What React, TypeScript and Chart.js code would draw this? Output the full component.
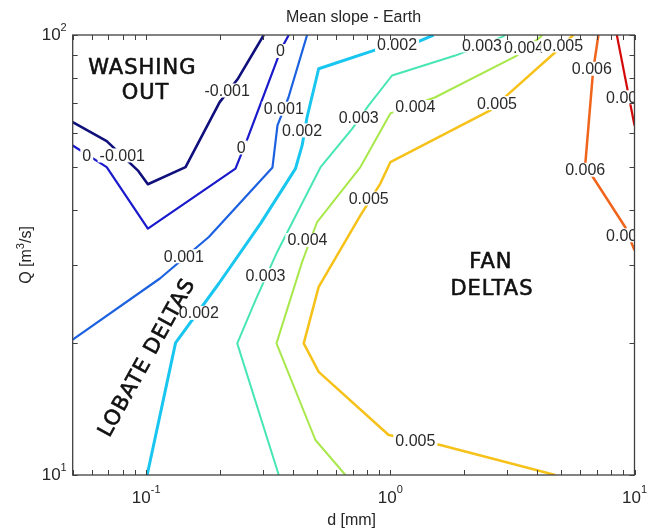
import React, { useEffect, useRef } from "react";
import { Chart, registerables } from "chart.js";

Chart.register(...registerables);

// ---- axis ticks ----
const X_TICKS = [0.05, 0.06, 0.07, 0.08, 0.09, 0.1, 0.2, 0.3, 0.4, 0.5, 0.6, 0.7, 0.8, 0.9, 1, 2, 3, 4, 5, 6, 7, 8, 9, 10];
const Y_TICKS = [10, 20, 30, 40, 50, 60, 70, 80, 90, 100];
const X_LABEL_VALUES = [0.1, 1, 10];
const X_LABEL_EXP = ["-1", "0", "1"];
const Y_LABEL_VALUES = [10, 100];
const Y_LABEL_EXP = ["1", "2"];

// ---- contour lines: d [mm] and Q [m3/s] ----
const D_M001 = [0.05, 0.0689, 0.0928, 0.1016, 0.1449, 0.1997, 0.2366, 0.303];
const Q_M001 = [63.4, 57.4, 49.1, 45.8, 50.1, 70.3, 79.3, 100];

const D_000 = [0.05, 0.0689, 0.1016, 0.2321, 0.2601, 0.358, 0.3836];
const Q_000 = [56.1, 50.1, 36.3, 49.7, 58.2, 93.2, 100];

const D_001 = [0.05, 0.1138, 0.1805, 0.329, 0.3449, 0.3825, 0.4561];
const Q_001 = [20.3, 27.96, 34.75, 50.0, 62.3, 72.1, 100];

const D_002 = [0.1009, 0.1319, 0.1984, 0.2938, 0.4087, 0.4352, 0.4561, 0.5087, 0.8955, 1.286, 1.504];
const Q_002 = [10, 19.97, 27.24, 37.27, 49.7, 56.1, 65.1, 83.8, 93.0, 96.3, 100];

const D_003 = [0.3491, 0.236, 0.2804, 0.3439, 0.517, 0.697, 0.815, 1.016, 1.845, 2.872, 2.954];
const Q_003 = [10, 19.91, 24.96, 32.13, 50.0, 61.2, 69.2, 80.9, 89.8, 99.0, 100];

const D_004 = [0.6545, 0.4933, 0.3417, 0.4352, 0.5012, 0.7541, 1.0, 1.528, 3.3, 4.11, 4.188];
const Q_004 = [10, 12.01, 19.91, 30.5, 37.58, 50.1, 66.35, 72.2, 89.8, 98.9, 100];

const D_005 = [4.732, 1.602, 0.9841, 0.5087, 0.4418, 0.5087, 0.7541, 0.9101, 1.0, 2.566, 3.002, 4.824, 5.609];
const Q_005 = [10, 11.7, 12.33, 17.16, 19.91, 26.76, 38.92, 45.95, 51.4, 67.4, 72.9, 92.2, 100];

const D_006 = [7.117, 6.77, 6.28, 6.752, 9.154, 10];
const Q_006 = [100, 83.06, 50.54, 47.56, 36.62, 32.42];

const D_007 = [8.465, 10];
const Q_007 = [100, 62.3];

// ---- inline contour labels ----
const LABEL_TEXT = ["-0.001", "0", "-0.001", "0", "0", "0.001", "0.002", "0.001", "0.002", "0.002", "0.003", "0.003", "0.003", "0.004", "0.004", "0.004", "0.005", "0.005", "0.005", "0.005", "0.006", "0.006", "0.006", "0.007"];
const LABEL_D = [0.0798, 0.0571, 0.2147, 0.2449, 0.3548, 0.366, 0.4352, 0.1426, 0.1643, 1.065, 0.7419, 0.308, 2.372, 0.4575, 1.266, 3.53, 0.815, 2.733, 5.1, 1.266, 6.688, 6.28, 9.24, 9.24];
const LABEL_Q = [53.25, 53.25, 74.8, 55.5, 91.97, 68.0, 60.7, 31.42, 23.36, 95.1, 64.9, 28.44, 94.7, 34.2, 68.6, 93.4, 42.5, 70.0, 94.7, 11.96, 83.8, 49.4, 35.06, 72.2];

// ---- region annotations ----
const REGION_TEXT = ["WASHING", "OUT", "FAN", "DELTAS", "LOBATE DELTAS"];
const REGION_D = [0.0964, 0.0994, 2.582, 2.607, 0.1013];
const REGION_Q = [83.8, 73.5, 30.34, 26.41, 18.44];
const REGION_ANGLE = [0, 0, 0, 0, -61];

const LINES = [
  { d: D_M001, q: Q_M001, color: "#10107c", width: 2.6 },
  { d: D_000, q: Q_000, color: "#1a1acc", width: 2.2 },
  { d: D_001, q: Q_001, color: "#1c62e0", width: 2.2 },
  { d: D_002, q: Q_002, color: "#18c6f0", width: 3 },
  { d: D_003, q: Q_003, color: "#48e6b4", width: 2 },
  { d: D_004, q: Q_004, color: "#a8e84a", width: 2 },
  { d: D_005, q: Q_005, color: "#f6c21a", width: 2.5 },
  { d: D_006, q: Q_006, color: "#f0641c", width: 2.5 },
  { d: D_007, q: Q_007, color: "#d40a0a", width: 2.2 },
];

const FONT = '"Liberation Sans", Arial, sans-serif';

const framePlugin = {
  id: "matlabFrame",
  afterDatasetsDraw(chart: any) {
    const { ctx, chartArea: a, scales } = chart;
    const xs = scales.x;
    const ys = scales.y;
    // inline labels
    ctx.save();
    ctx.beginPath();
    ctx.rect(a.left, a.top, a.right - a.left, a.bottom - a.top);
    ctx.clip();
    ctx.font = "16px " + FONT;
    ctx.textAlign = "center";
    ctx.textBaseline = "middle";
    LABEL_TEXT.forEach((t, i) => {
      const px = xs.getPixelForValue(LABEL_D[i]);
      const py = ys.getPixelForValue(LABEL_Q[i]);
      const w = ctx.measureText(t).width;
      ctx.fillStyle = "#ffffff";
      ctx.fillRect(px - w / 2 - 2, py - 7, w + 4, 14);
      ctx.fillStyle = "#2a2a2a";
      ctx.fillText(t, px, py + 1);
    });
    // region annotations
    ctx.font = '21px "DejaVu Sans", sans-serif';
    (ctx as any).letterSpacing = "1px";
    ctx.fillStyle = "#111111";
    ctx.strokeStyle = "#111111";
    ctx.lineWidth = 0.6;
    REGION_TEXT.forEach((t, i) => {
      const px = xs.getPixelForValue(REGION_D[i]);
      const py = ys.getPixelForValue(REGION_Q[i]);
      ctx.save();
      ctx.translate(px, py);
      ctx.rotate((REGION_ANGLE[i] * Math.PI) / 180);
      ctx.fillText(t, 0, 0);
      ctx.strokeText(t, 0, 0);
      ctx.restore();
    });
    (ctx as any).letterSpacing = "0px";
    ctx.restore();
  },
  afterDraw(chart: any) {
    const { ctx, chartArea: a, scales } = chart;
    const xs = scales.x;
    const ys = scales.y;
    ctx.save();
    ctx.strokeStyle = "#404040";
    ctx.lineWidth = 1.3;
    ctx.strokeRect(a.left, a.top, a.right - a.left, a.bottom - a.top);
    ctx.lineWidth = 1;
    const tl = 5;
    ctx.beginPath();
    X_TICKS.forEach((v) => {
      const px = Math.round(xs.getPixelForValue(v)) + 0.5;
      ctx.moveTo(px, a.bottom);
      ctx.lineTo(px, a.bottom - tl);
      ctx.moveTo(px, a.top);
      ctx.lineTo(px, a.top + tl);
    });
    Y_TICKS.forEach((v) => {
      const py = Math.round(ys.getPixelForValue(v)) + 0.5;
      ctx.moveTo(a.left, py);
      ctx.lineTo(a.left + tl, py);
      ctx.moveTo(a.right, py);
      ctx.lineTo(a.right - tl, py);
    });
    ctx.stroke();

    ctx.fillStyle = "#262626";
    ctx.textBaseline = "alphabetic";
    ctx.textAlign = "left";
    const baseFont = "17px " + FONT;
    const expFont = "11px " + FONT;
    X_LABEL_VALUES.forEach((v, i) => {
      const px = xs.getPixelForValue(v);
      ctx.font = baseFont;
      const wb = ctx.measureText("10").width;
      ctx.font = expFont;
      const we = ctx.measureText(X_LABEL_EXP[i]).width;
      const x0 = px - (wb + we) / 2;
      ctx.font = baseFont;
      ctx.fillText("10", x0, a.bottom + 28);
      ctx.font = expFont;
      ctx.fillText(X_LABEL_EXP[i], x0 + wb, a.bottom + 18);
    });
    Y_LABEL_VALUES.forEach((v, i) => {
      const py = ys.getPixelForValue(v);
      ctx.font = baseFont;
      const wb = ctx.measureText("10").width;
      ctx.font = expFont;
      const we = ctx.measureText(Y_LABEL_EXP[i]).width;
      const x1 = a.left - 6;
      ctx.font = baseFont;
      ctx.fillText("10", x1 - we - wb, py + 5);
      ctx.font = expFont;
      ctx.fillText(Y_LABEL_EXP[i], x1 - we, py - 4);
    });

    // title
    ctx.font = "16px " + FONT;
    ctx.textAlign = "center";
    ctx.fillText("Mean slope - Earth", (a.left + a.right) / 2, 22);
    // x label
    ctx.fillText("d [mm]", (a.left + a.right) / 2 - 2, 525);
    // y label with superscript
    ctx.save();
    ctx.translate(31, (a.top + a.bottom) / 2);
    ctx.rotate(-Math.PI / 2);
    ctx.textAlign = "left";
    const p1 = "Q [m";
    const p2 = "3";
    const p3 = "/s]";
    ctx.font = "16px " + FONT;
    const w1 = ctx.measureText(p1).width;
    const w3 = ctx.measureText(p3).width;
    ctx.font = "11px " + FONT;
    const w2 = ctx.measureText(p2).width;
    let sx = -(w1 + w2 + w3) / 2;
    ctx.font = "16px " + FONT;
    ctx.fillText(p1, sx, 0);
    sx += w1;
    ctx.font = "11px " + FONT;
    ctx.fillText(p2, sx, -7);
    sx += w2;
    ctx.font = "16px " + FONT;
    ctx.fillText(p3, sx, 0);
    ctx.restore();
    ctx.restore();
  },
};

export default function App() {
  const ref = useRef<HTMLCanvasElement | null>(null);
  useEffect(() => {
    if (!ref.current) return;
    const chart = new Chart(ref.current, {
      type: "scatter",
      data: {
        datasets: LINES.map((l) => ({
          data: l.d.map((d, i) => ({ x: d, y: l.q[i] })),
          showLine: true,
          borderColor: l.color,
          backgroundColor: l.color,
          borderWidth: l.width,
          pointRadius: 0,
          pointHoverRadius: 0,
          fill: false,
          tension: 0,
          borderJoinStyle: "round" as const,
          borderCapStyle: "butt" as const,
        })),
      },
      options: {
        animation: false,
        responsive: false,
        maintainAspectRatio: false,
        events: [],
        layout: { padding: { left: 72.7, right: 18.5, top: 35, bottom: 56 } },
        plugins: {
          legend: { display: false },
          tooltip: { enabled: false },
          title: { display: false },
        },
        scales: {
          x: { type: "logarithmic", min: 0.05, max: 10, display: false },
          y: { type: "logarithmic", min: 10, max: 100, display: false },
        },
      },
      plugins: [framePlugin],
    });
    return () => chart.destroy();
  }, []);
  return (
    <div style={{ position: "fixed", left: 0, top: 0, width: 653, height: 531, background: "#ffffff" }}>
      <canvas ref={ref} width={653} height={531} style={{ display: "block", width: 653, height: 531 }} />
    </div>
  );
}
